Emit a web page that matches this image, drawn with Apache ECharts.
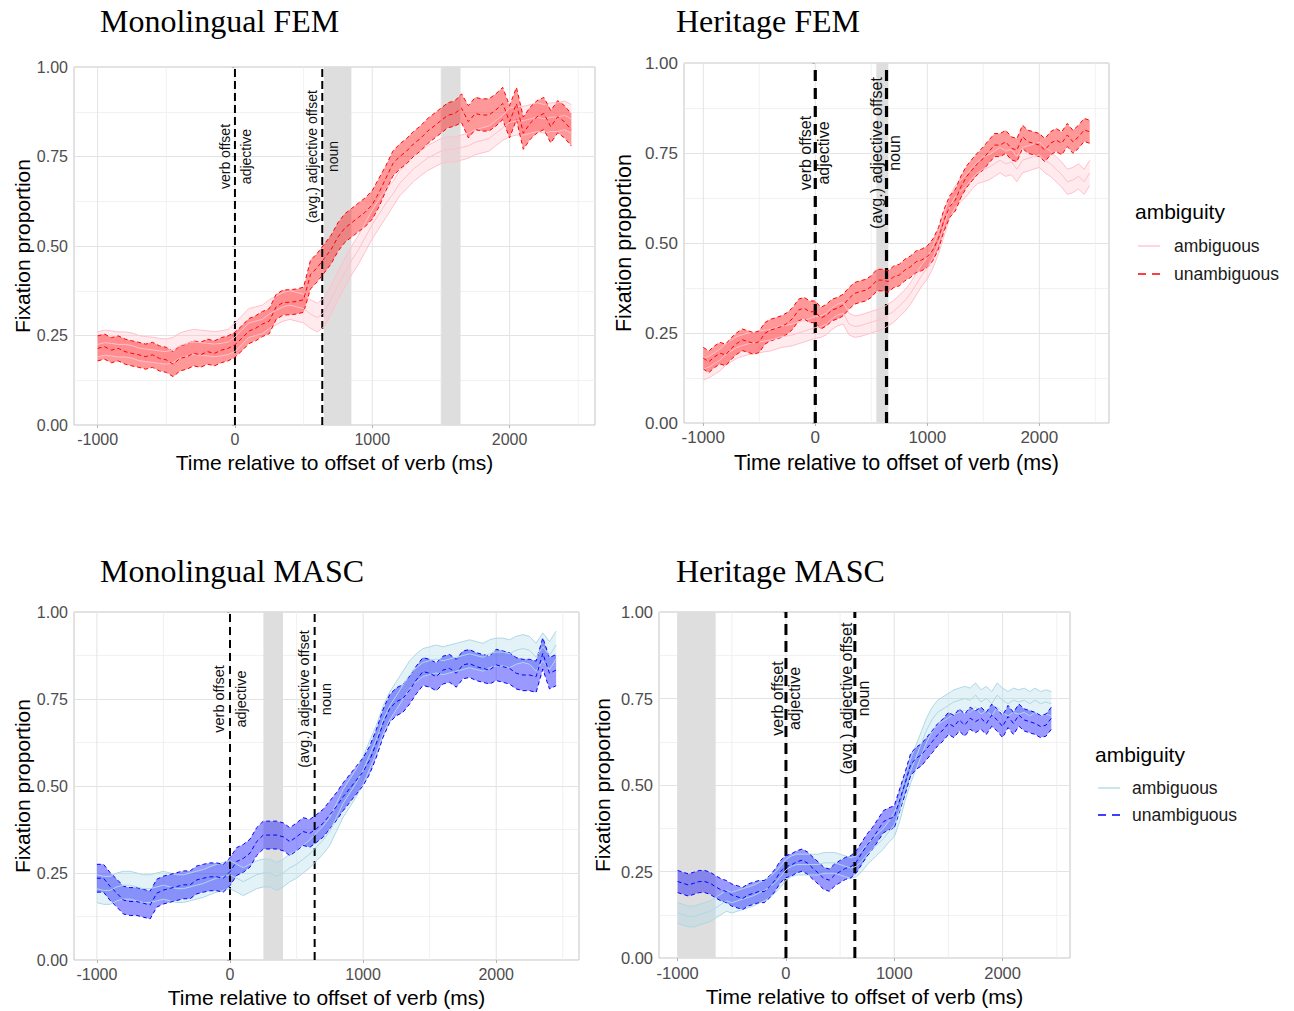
<!DOCTYPE html>
<html>
<head>
<meta charset="utf-8">
<script src="https://cdn.jsdelivr.net/npm/echarts@6/dist/echarts.min.js"></script>
<style>
  html, body { margin: 0; padding: 0; background: #fff; }
  #chart { width: 1294px; height: 1011px; }
</style>
</head>
<body>
<div id="chart"></div>
<script>
// time bins (ms relative to verb offset)
const times = [
  -1000, -950, -900, -850, -800, -750, -700, -650, -600, -550,
  -500, -450, -400, -350, -300, -250, -200, -150, -100, -50,
  0, 50, 100, 150, 200, 250, 300, 350, 400, 450,
  500, 550, 600, 650, 700, 750, 800, 850, 900, 950,
  1000, 1050, 1100, 1150, 1200, 1250, 1300, 1350, 1400, 1450,
  1500, 1550, 1600, 1650, 1700, 1750, 1800, 1850, 1900, 1950,
  2000, 2050, 2100, 2150, 2200, 2250, 2300, 2350, 2400, 2450
];

// Monolingual FEM
const monoFemAmb = [
  .225, .230, .228, .225, .225, .222, .215, .212, .210, .207,
  .205, .210, .222, .228, .232, .230, .228, .226, .228, .232,
  .245, .265, .285, .290, .295, .310, .320, .330, .335, .330,
  .325, .310, .300, .315, .350, .390, .425, .460, .490, .525,
  .560, .590, .620, .645, .675, .695, .715, .730, .745, .755,
  .765, .770, .770, .775, .780, .790, .795, .800, .815, .830,
  .845, .850, .850, .855, .860, .855, .860, .860, .865, .855
];
const monoFemAmbCi = [
  .035, .035, .035, .035, .035, .035, .035, .035, .035, .035,
  .035, .035, .035, .035, .035, .035, .035, .035, .035, .035,
  .040, .040, .040, .040, .040, .040, .040, .040, .040, .040,
  .040, .040, .040, .040, .040, .040, .040, .040, .040, .040,
  .040, .040, .040, .035, .035, .035, .035, .035, .035, .035,
  .035, .035, .035, .035, .035, .035, .035, .035, .035, .035,
  .040, .040, .040, .040, .040, .040, .040, .040, .040, .040
];
const monoFemUnamb = [
  .214, .219, .209, .214, .205, .200, .196, .191, .196, .186,
  .182, .170, .186, .191, .200, .196, .205, .200, .209, .214,
  .224, .242, .262, .270, .282, .290, .330, .342, .343, .345,
  .350, .420, .440, .465, .490, .525, .550, .565, .580, .595,
  .615, .650, .690, .730, .750, .765, .785, .800, .820, .835,
  .850, .865, .870, .885, .847, .870, .866, .866, .880, .898,
  .847, .898, .815, .843, .861, .870, .833, .861, .847, .824
];
const monoFemUnambCi = [
  .035, .035, .035, .035, .035, .035, .035, .035, .035, .035,
  .035, .035, .035, .035, .035, .035, .035, .035, .035, .035,
  .035, .035, .035, .035, .035, .035, .035, .035, .035, .035,
  .035, .040, .040, .040, .040, .040, .040, .040, .040, .040,
  .040, .040, .035, .035, .035, .035, .035, .035, .035, .035,
  .035, .035, .035, .040, .045, .045, .045, .045, .045, .045,
  .045, .045, .045, .045, .045, .045, .045, .045, .045, .045
];

// Heritage FEM
const heriFemAmb = [
  .150, .155, .165, .175, .190, .200, .210, .215, .220, .222,
  .225, .228, .230, .235, .240, .242, .245, .250, .255, .260,
  .265, .268, .275, .290, .300, .305, .275, .268, .270, .275,
  .280, .285, .290, .300, .310, .325, .340, .360, .385, .410,
  .430, .460, .500, .550, .600, .630, .645, .660, .680, .695,
  .705, .710, .720, .730, .720, .725, .705, .730, .735, .740,
  .745, .730, .720, .705, .690, .670, .675, .685, .670, .695
];
const heriFemAmbCi = [
  .030, .030, .030, .030, .030, .030, .030, .030, .030, .030,
  .030, .030, .030, .030, .030, .030, .030, .030, .030, .030,
  .030, .030, .030, .030, .030, .030, .030, .030, .030, .030,
  .030, .030, .030, .030, .030, .030, .030, .030, .030, .030,
  .030, .030, .030, .030, .030, .030, .030, .030, .030, .030,
  .035, .035, .035, .035, .035, .035, .035, .035, .035, .035,
  .035, .035, .035, .035, .035, .035, .035, .035, .035, .035
];
const heriFemUnamb = [
  .180, .170, .184, .194, .189, .207, .221, .231, .226, .221,
  .226, .249, .258, .263, .268, .277, .291, .314, .319, .309,
  .309, .291, .300, .314, .319, .328, .346, .360, .365, .369,
  .379, .397, .397, .393, .406, .411, .425, .434, .448, .453,
  .462, .481, .513, .564, .601, .619, .656, .684, .703, .721,
  .735, .754, .772, .772, .781, .763, .758, .795, .781, .777,
  .772, .758, .777, .786, .777, .800, .781, .795, .814, .809
];
const heriFemUnambCi = [
  .030, .030, .030, .030, .030, .030, .030, .030, .030, .030,
  .030, .030, .030, .030, .030, .030, .030, .030, .030, .030,
  .030, .030, .030, .030, .030, .030, .030, .030, .030, .030,
  .030, .030, .030, .030, .030, .030, .030, .030, .030, .030,
  .030, .030, .030, .030, .030, .030, .030, .030, .030, .030,
  .032, .032, .032, .032, .032, .032, .032, .032, .032, .032,
  .032, .032, .032, .032, .032, .032, .032, .032, .032, .032
];

// Monolingual MASC
const monoMascAmb = [
  .205, .200, .200, .210, .215, .215, .210, .205, .205, .210,
  .215, .210, .205, .205, .210, .215, .220, .228, .235, .240,
  .245, .235, .225, .235, .245, .250, .250, .240, .250, .265,
  .275, .290, .305, .325, .345, .370, .410, .450, .480, .510,
  .545, .590, .635, .690, .730, .760, .790, .820, .840, .855,
  .860, .865, .860, .865, .870, .875, .880, .875, .870, .880,
  .885, .885, .880, .890, .895, .890, .870, .900, .875, .905
];
const monoMascAmbCi = [
  .040, .040, .040, .040, .040, .040, .040, .040, .040, .040,
  .040, .040, .040, .040, .040, .040, .040, .040, .040, .040,
  .040, .040, .040, .040, .040, .040, .040, .040, .040, .040,
  .040, .040, .040, .040, .040, .040, .040, .040, .040, .040,
  .040, .040, .040, .040, .040, .040, .040, .040, .040, .040,
  .040, .040, .040, .040, .040, .040, .040, .040, .040, .040,
  .040, .040, .040, .040, .040, .040, .040, .040, .040, .040
];
const monoMascUnamb = [
  .235, .235, .211, .192, .172, .168, .168, .163, .158, .192,
  .201, .206, .211, .216, .216, .230, .235, .239, .239, .235,
  .254, .283, .292, .307, .340, .359, .359, .359, .354, .340,
  .354, .369, .364, .378, .393, .417, .441, .469, .493, .517,
  .541, .575, .623, .680, .723, .742, .752, .776, .805, .829,
  .824, .814, .833, .838, .824, .848, .852, .843, .838, .833,
  .848, .843, .838, .824, .819, .819, .814, .881, .824, .833
];
const monoMascUnambCi = [
  .040, .040, .040, .040, .040, .040, .040, .040, .040, .040,
  .040, .040, .040, .040, .040, .040, .040, .040, .040, .040,
  .040, .040, .040, .040, .040, .040, .040, .040, .040, .040,
  .040, .040, .040, .040, .040, .040, .040, .040, .040, .040,
  .040, .040, .040, .040, .040, .040, .040, .040, .040, .040,
  .040, .040, .040, .040, .040, .040, .040, .040, .040, .040,
  .045, .045, .045, .045, .045, .045, .045, .045, .045, .045
];

// Heritage MASC
const heriMascAmb = [
  .130, .125, .120, .120, .125, .130, .135, .145, .155, .165,
  .160, .165, .170, .175, .180, .188, .195, .205, .218, .235,
  .255, .265, .270, .270, .270, .270, .270, .275, .275, .275,
  .270, .265, .260, .265, .280, .300, .315, .330, .345, .365,
  .385, .430, .490, .540, .580, .620, .660, .690, .710, .720,
  .730, .740, .745, .750, .745, .760, .740, .750, .735, .760,
  .745, .735, .745, .740, .745, .735, .745, .735, .740, .735
];
const heriMascAmbCi = [
  .030, .030, .030, .030, .030, .030, .030, .030, .030, .030,
  .030, .030, .030, .030, .030, .030, .030, .030, .030, .030,
  .030, .030, .030, .030, .030, .030, .030, .030, .030, .030,
  .030, .030, .030, .030, .030, .030, .030, .030, .030, .030,
  .035, .035, .035, .035, .035, .035, .035, .035, .035, .035,
  .035, .035, .035, .035, .035, .035, .035, .035, .035, .035,
  .035, .035, .035, .035, .035, .035, .035, .035, .035, .035
];
const heriMascUnamb = [
  .221, .216, .211, .216, .221, .221, .216, .206, .197, .192,
  .182, .177, .172, .182, .187, .192, .192, .206, .225, .250,
  .264, .269, .278, .283, .274, .259, .245, .230, .225, .240,
  .250, .259, .264, .278, .303, .327, .346, .370, .394, .402,
  .408, .457, .505, .558, .577, .587, .606, .625, .645, .659,
  .678, .669, .688, .673, .693, .683, .693, .678, .702, .688,
  .669, .698, .678, .702, .688, .683, .678, .669, .673, .693
];
const heriMascUnambCi = [
  .032, .032, .032, .032, .032, .032, .032, .032, .032, .032,
  .032, .032, .032, .032, .032, .032, .032, .032, .032, .032,
  .032, .032, .032, .032, .032, .032, .032, .032, .032, .032,
  .032, .032, .032, .032, .032, .032, .032, .032, .032, .032,
  .032, .032, .032, .032, .032, .032, .032, .032, .032, .032,
  .032, .032, .032, .032, .032, .032, .032, .032, .032, .032,
  .032, .032, .032, .032, .032, .032, .032, .032, .032, .032
];

// significance windows (grey bands), ms
const monoFemShades = [[648, 848], [1502, 1643]];
const heriFemShades = [[545, 652]];
const monoMascShades = [[251, 398]];
const heriMascShades = [[-1000, -649]];

// word boundaries
const markerTimes = [0, 636];
const markerLabels = [['verb offset', 'adjective'], ['(avg.) adjective offset', 'noun']];
const markerLabelY = 0.75;

const xTicks = [-1000, 0, 1000, 2000];
const xGridTimes = [-1000, -500, 0, 500, 1000, 1500, 2000, 2500];
const xRange = [-1172, 2622];

const SANS = 'Liberation Sans, Arial, sans-serif';
const SERIF = 'Liberation Serif, Times New Roman, serif';

const FEM = { amb: '#FFC0CB', unamb: '#FF0000', ambFill: 'rgba(255,192,203,0.34)', unambFill: 'rgba(255,0,0,0.4)' };
const MASC = { amb: '#ADD8E6', unamb: '#0000FF', ambFill: 'rgba(173,216,230,0.34)', unambFill: 'rgba(0,0,255,0.4)' };

const panels = [
  { title: 'Monolingual FEM', titlePos: [100, 5], grid: { left: 74, top: 67, width: 521, height: 358 },
    amb: monoFemAmb, ambCi: monoFemAmbCi, unamb: monoFemUnamb, unambCi: monoFemUnambCi, pal: FEM,
    shades: monoFemShades, tick: 16, axTitle: 21, xGap: 27, yGap: 41,
    vW: 2, vDash: [8, 4], txt: 14, txtOff: [-10, 11] },
  { title: 'Heritage FEM', titlePos: [676, 5], grid: { left: 684, top: 63, width: 425, height: 360 },
    amb: heriFemAmb, ambCi: heriFemAmbCi, unamb: heriFemUnamb, unambCi: heriFemUnambCi, pal: FEM,
    shades: heriFemShades, tick: 17, axTitle: 21.5, xGap: 29, yGap: 49,
    vW: 3.2, vDash: [11, 7], txt: 16, txtOff: [-10, 8] },
  { title: 'Monolingual MASC', titlePos: [100, 555], grid: { left: 74, top: 612, width: 505, height: 348 },
    amb: monoMascAmb, ambCi: monoMascAmbCi, unamb: monoMascUnamb, unambCi: monoMascUnambCi, pal: MASC,
    shades: monoMascShades, tick: 16, axTitle: 21, xGap: 27, yGap: 41,
    vW: 2, vDash: [8, 5], txt: 14.5, txtOff: [-11, 11] },
  { title: 'Heritage MASC', titlePos: [676, 555], grid: { left: 659, top: 612, width: 411, height: 346 },
    amb: heriMascAmb, ambCi: heriMascAmbCi, unamb: heriMascUnamb, unambCi: heriMascUnambCi, pal: MASC,
    shades: heriMascShades, tick: 16.5, axTitle: 21, xGap: 28, yGap: 46,
    vW: 3, vDash: [11, 6], txt: 16, txtOff: [-8, 9] }
];

const legends = [
  { x: 1135, titleY: 211, keyX: 1138, labelX: 1174, rows: [246, 274], pal: FEM },
  { x: 1095, titleY: 754, keyX: 1098, labelX: 1132, rows: [788, 815], pal: MASC }
];

function pairs(vals) { return times.map((t, k) => [t, vals[k]]); }

function ribbon(i, mean, ci, fill) {
  return {
    type: 'custom', xAxisIndex: i, yAxisIndex: i, silent: true,
    data: [[times[0], mean[0]]],
    renderItem: function (params, api) {
      const pts = [];
      for (let k = 0; k < times.length; k++) pts.push(api.coord([times[k], mean[k] + ci[k]]));
      for (let k = times.length - 1; k >= 0; k--) pts.push(api.coord([times[k], mean[k] - ci[k]]));
      return { type: 'polygon', shape: { points: pts }, style: { fill: fill } };
    }
  };
}

function line(i, vals, color, dashed) {
  return {
    type: 'line', xAxisIndex: i, yAxisIndex: i, silent: true,
    data: pairs(vals), symbol: 'none', showSymbol: false,
    lineStyle: { color: color, width: 1, type: dashed ? [4, 3] : 'solid' }
  };
}

const series = [];
const xAxes = [];
const yAxes = [];

panels.forEach(function (p, i) {
  xAxes.push({
    gridIndex: i, type: 'value', min: xRange[0], max: xRange[1],
    axisLine: { show: false },
    axisTick: { show: true, customValues: xTicks, length: 3, lineStyle: { color: '#b3b3b3' } },
    axisLabel: { customValues: xTicks, fontSize: p.tick, color: '#4d4d4d', fontFamily: SANS, margin: 6,
      formatter: function (v) { return String(v); } },
    splitLine: { show: false },
    name: 'Time relative to offset of verb (ms)', nameLocation: 'middle', nameGap: p.xGap,
    nameTextStyle: { fontSize: p.axTitle, color: '#000', fontFamily: SANS }
  });
  yAxes.push({
    gridIndex: i, type: 'value', min: 0, max: 1, interval: 0.25,
    axisLine: { show: false },
    axisTick: { show: true, length: 3, lineStyle: { color: '#b3b3b3' } },
    axisLabel: { fontSize: p.tick, color: '#4d4d4d', fontFamily: SANS, margin: 6,
      formatter: function (v) { return v.toFixed(2); } },
    splitLine: { show: true, lineStyle: { color: '#e3e3e3', width: 1 } },
    minorTick: { show: false, splitNumber: 2 },
    minorSplitLine: { show: true, lineStyle: { color: '#eeeeee', width: 0.8 } },
    name: 'Fixation proportion', nameLocation: 'middle', nameGap: p.yGap,
    nameTextStyle: { fontSize: p.axTitle, color: '#000', fontFamily: SANS }
  });

  // vertical grid lines
  series.push({
    type: 'custom', xAxisIndex: i, yAxisIndex: i, silent: true,
    data: xGridTimes.map(t => [t, 0]),
    renderItem: function (params, api) {
      const t = api.value(0);
      const a = api.coord([t, 0]), b = api.coord([t, 1]);
      const major = t % 1000 === 0;
      return { type: 'line', shape: { x1: a[0], y1: a[1], x2: b[0], y2: b[1] },
        style: { stroke: major ? '#e3e3e3' : '#eeeeee', lineWidth: major ? 1 : 0.8 } };
    }
  });
  // grey windows
  series.push({
    type: 'custom', xAxisIndex: i, yAxisIndex: i, silent: true,
    data: p.shades,
    renderItem: function (params, api) {
      const a = api.coord([api.value(0), 1]), b = api.coord([api.value(1), 0]);
      return { type: 'rect', shape: { x: a[0], y: a[1], width: b[0] - a[0], height: b[1] - a[1] },
        style: { fill: '#dedede' } };
    }
  });

  const ambLo = p.amb.map((m, k) => m - p.ambCi[k]);
  const ambHi = p.amb.map((m, k) => m + p.ambCi[k]);
  const unLo = p.unamb.map((m, k) => m - p.unambCi[k]);
  const unHi = p.unamb.map((m, k) => m + p.unambCi[k]);

  series.push(ribbon(i, p.amb, p.ambCi, p.pal.ambFill));
  series.push(line(i, ambLo, p.pal.amb, false));
  series.push(line(i, ambHi, p.pal.amb, false));
  series.push(ribbon(i, p.unamb, p.unambCi, p.pal.unambFill));
  series.push(line(i, unLo, p.pal.unamb, true));
  series.push(line(i, unHi, p.pal.unamb, true));
  series.push(line(i, p.amb, p.pal.amb, false));
  series.push(line(i, p.unamb, p.pal.unamb, true));

  // word boundary lines
  series.push({
    type: 'custom', xAxisIndex: i, yAxisIndex: i, silent: true,
    data: markerTimes.map(t => [t, 0]),
    renderItem: function (params, api) {
      const a = api.coord([api.value(0), 0]), b = api.coord([api.value(0), 1]);
      return { type: 'line', shape: { x1: a[0], y1: a[1], x2: b[0], y2: b[1] },
        style: { stroke: '#000', lineWidth: p.vW, lineDash: p.vDash } };
    }
  });
  // rotated labels
  series.push({
    type: 'custom', xAxisIndex: i, yAxisIndex: i, silent: true,
    data: markerTimes.map(t => [t, markerLabelY]),
    renderItem: function (params, api) {
      const c = api.coord([api.value(0), api.value(1)]);
      const pair = markerLabels[params.dataIndex];
      const mk = function (txt, dx) {
        return { type: 'text', x: c[0] + dx, y: c[1], rotation: Math.PI / 2,
          style: { text: txt, fontSize: p.txt, fontFamily: SANS, fill: '#111', align: 'center', verticalAlign: 'middle' } };
      };
      return { type: 'group', children: [mk(pair[0], p.txtOff[0]), mk(pair[1], p.txtOff[1])] };
    }
  });
});

const graphic = [];
legends.forEach(function (L) {
  graphic.push({ type: 'text', x: L.x, y: L.titleY,
    style: { text: 'ambiguity', fontSize: 21, fontFamily: SANS, fill: '#000', verticalAlign: 'middle' } });
  graphic.push({ type: 'line', shape: { x1: L.keyX, y1: L.rows[0], x2: L.keyX + 22, y2: L.rows[0] },
    style: { stroke: L.pal.amb, lineWidth: 1.3 } });
  graphic.push({ type: 'line', shape: { x1: L.keyX, y1: L.rows[1], x2: L.keyX + 22, y2: L.rows[1] },
    style: { stroke: L.pal.unamb, lineWidth: 1.3, lineDash: [8, 6] } });
  graphic.push({ type: 'text', x: L.labelX, y: L.rows[0],
    style: { text: 'ambiguous', fontSize: 17.5, fontFamily: SANS, fill: '#1a1a1a', verticalAlign: 'middle' } });
  graphic.push({ type: 'text', x: L.labelX, y: L.rows[1],
    style: { text: 'unambiguous', fontSize: 17.5, fontFamily: SANS, fill: '#1a1a1a', verticalAlign: 'middle' } });
});

const option = {
  animation: false,
  backgroundColor: '#fff',
  title: panels.map(p => ({
    text: p.title, left: p.titlePos[0], top: p.titlePos[1], padding: 0,
    textStyle: { fontFamily: SERIF, fontSize: 32, fontWeight: 'normal', color: '#000' }
  })),
  grid: panels.map(p => Object.assign({ show: true, borderColor: '#c4c4c4', borderWidth: 1, backgroundColor: 'transparent' }, p.grid)),
  xAxis: xAxes,
  yAxis: yAxes,
  series: series,
  graphic: graphic
};

const chart = echarts.init(document.getElementById('chart'), null, { renderer: 'svg' });
chart.setOption(option);
</script>
</body>
</html>
